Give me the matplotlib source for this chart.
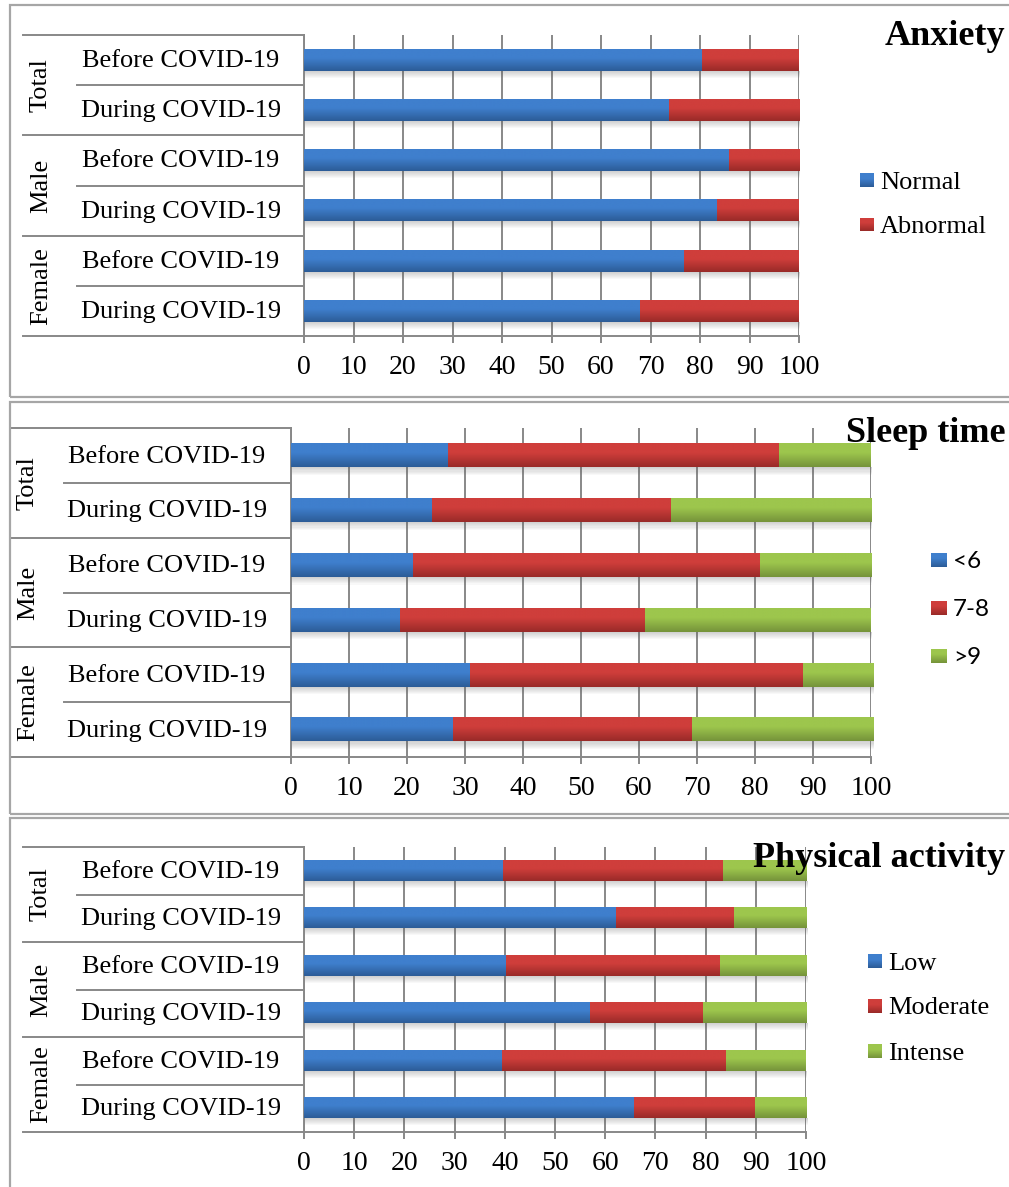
import matplotlib
matplotlib.use('Agg')
import matplotlib.pyplot as plt
import numpy as np
from matplotlib.patches import Rectangle
from matplotlib.lines import Line2D
from matplotlib.colors import LinearSegmentedColormap

# ---------------- data ----------------
groups = ["Total", "Male", "Female"]
periods = ["Before COVID-19", "During COVID-19"]
tick_values = [0, 10, 20, 30, 40, 50, 60, 70, 80, 90, 100]

anxiety_labels = ["Normal", "Abnormal"]
anxiety_normal = [80.5, 73.7, 85.8, 83.5, 76.8, 67.9]
anxiety_abnormal = [19.5, 26.3, 14.2, 16.5, 23.2, 32.1]

sleep_labels = ["<6", "7-8", ">9"]
sleep_lt6 = [27.0, 24.3, 21.0, 18.8, 30.9, 28.0]
sleep_7_8 = [57.2, 41.2, 59.8, 42.2, 57.3, 41.1]
sleep_gt9 = [15.8, 34.5, 19.2, 38.9, 12.2, 31.3]

activity_labels = ["Low", "Moderate", "Intense"]
activity_low = [39.7, 62.1, 40.2, 56.9, 39.5, 65.7]
activity_moderate = [43.8, 23.6, 42.7, 22.6, 44.6, 24.1]
activity_intense = [16.6, 14.4, 17.2, 20.6, 15.9, 10.3]

# ---------------- style ----------------
W, H = 1009, 1187
SERIF = 'Liberation Serif'
SANS = 'Lato'
GRID = '#888888'
BOX = '#a6a6a6'
FILLS = [
    ('#3f7fcd', '#2c5c97'),   # blue: top, bottom
    ('#cf3e3b', '#992a28'),   # red
    ('#9dc64d', '#75933a'),   # green
]

fig = plt.figure(figsize=(W / 100, H / 100), dpi=100)


def fx(px):
    return px / W


def fy(py):
    return 1 - py / H


def gradient_cmap(top, bottom):
    return LinearSegmentedColormap.from_list('g', [(0, top), (0.4, top), (1, bottom)])


GRAD = np.linspace(0, 1, 64).reshape(-1, 1)


def gradient_bar(ax, bar, top, bottom):
    x0, y0 = bar.get_x(), bar.get_y()
    w, h = bar.get_width(), bar.get_height()
    ax.imshow(GRAD, cmap=gradient_cmap(top, bottom), extent=(x0, x0 + w, y0 + h, y0),
              origin='upper', aspect='auto', interpolation='bilinear', zorder=3,
              clip_on=False)
    # soft shadow below the bar
    depth = 0.14
    n = 7
    for k in range(n):
        ax.add_patch(Rectangle((x0 + 0.2, y0 + h), w, depth * (k + 1) / n,
                               facecolor='#606060', edgecolor='none', alpha=0.045,
                               zorder=1.5, clip_on=False))


def draw_panel(box, ax_px, series, labels, title, title_base, legend_info,
               lab_cx, grp_x, sub_x0, grp_x0, legend_font, legend_size):
    # panel border
    bx0, by0, by1 = box
    fig.add_artist(Rectangle((fx(bx0), fy(by1)), fx(1040 - bx0), (by1 - by0) / H,
                             transform=fig.transFigure, fill=False, edgecolor=BOX,
                             lw=1.6, clip_on=False))
    l, t, r, b = ax_px
    ax = fig.add_axes([fx(l), fy(b), (r - l) / W, (b - t) / H])
    n = len(series[0])
    y = np.arange(n)
    left = np.zeros(n)
    for vals, (top, bottom) in zip(series, FILLS):
        bars = ax.barh(y, vals, left=left, height=0.43, color=top, zorder=2)
        for bar in bars:
            bar.set_clip_on(False)
            gradient_bar(ax, bar, top, bottom)
        left = left + np.array(vals)
    ax.set_xlim(0, 100)
    ax.set_ylim(n - 0.5, -0.5)
    ax.set_xticks(tick_values)
    ax.set_xticklabels([str(v) for v in tick_values], fontfamily=SERIF, fontsize=20)
    ax.set_yticks([])
    ax.grid(axis='x', color=GRID, lw=1.4, zorder=0)
    ax.set_axisbelow(True)
    ax.tick_params(axis='x', length=5, width=1.4, color=GRID, pad=9)
    for s in ['top', 'right']:
        ax.spines[s].set_visible(False)
    for s in ['left', 'bottom']:
        ax.spines[s].set_color(GRID)
        ax.spines[s].set_linewidth(1.4)
    ax.patch.set_alpha(0)
    # multi-level category axis
    width_px = r - l
    ytr = ax.get_yaxis_transform()
    for k in range(n + 1):
        yb = k - 0.5
        x_start = grp_x0 if k % 2 == 0 else sub_x0
        ax.add_line(Line2D([(x_start - l) / width_px, 0], [yb, yb], transform=ytr,
                           color=GRID, lw=1.4, clip_on=False))
    for i in range(n):
        ax.text((lab_cx - l) / width_px, i + 0.02, periods[i % 2], transform=ytr,
                ha='center', va='center', fontfamily=SERIF, fontsize=19)
    for g, name in enumerate(groups):
        ax.text((grp_x - l) / width_px, 2 * g + 0.5, name, transform=ytr, rotation=90,
                ha='center', va='center', fontfamily=SERIF, fontsize=19)
    # title
    fig.text(fx(1005), fy(title_base), title, ha='right', va='baseline',
             fontfamily=SERIF, fontweight='bold', fontsize=26)
    # legend (gradient squares)
    mx0, mx1, tx, ys, msz = legend_info
    for lab, yc, (top, bottom) in zip(labels, ys, FILLS):
        lax = fig.add_axes([fx(mx0), fy(yc + msz / 2), (mx1 - mx0) / W, msz / H])
        lax.imshow(GRAD, cmap=gradient_cmap(top, bottom), aspect='auto',
                   interpolation='bilinear')
        lax.set_axis_off()
        fig.text(fx(tx), fy(yc), lab, ha='left', va='center_baseline',
                 fontfamily=legend_font, fontsize=legend_size)
    return ax


draw_panel((10, 5, 397), (304, 35, 799, 336), [anxiety_normal, anxiety_abnormal],
           anxiety_labels, "Anxiety", 45,
           (860, 874, 880, [180, 224.5], 14), 181, 41, 77, 23, SERIF, 19)

draw_panel((10, 402, 814), (291, 428, 871, 757), [sleep_lt6, sleep_7_8, sleep_gt9],
           sleep_labels, "Sleep time", 442,
           (931, 947, 953, [560, 608, 656], 15), 167, 28, 64, 10, SANS, 17.5)

draw_panel((10, 818, 1230), (304, 847, 806, 1132),
           [activity_low, activity_moderate, activity_intense],
           activity_labels, "Physical activity", 867,
           (868, 882, 888, [961, 1006, 1051], 14), 181, 41, 77, 23, SERIF, 19)

fig.savefig('out.png', dpi=100)
